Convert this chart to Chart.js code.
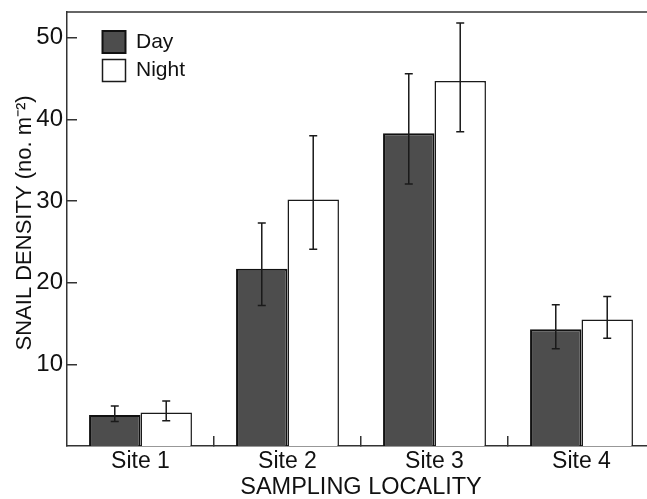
<!DOCTYPE html>
<html lang="en">
<head>
    <meta charset="UTF-8">
    <title>Snail density</title>
    <style>
        body {
            margin: 0;
            overflow: hidden;
            background: #fff;
        }
        #wrap {
            position: relative;
            width: 655px;
            height: 502px;
        }
    </style>
</head>
<body>
    <div id="wrap"><canvas id="myChart"></canvas></div>

    <script src="https://cdn.jsdelivr.net/npm/chart.js"></script>
    <script>
        // values
        const sites = ['Site 1', 'Site 2', 'Site 3', 'Site 4'];
        const dayMean = [3.8, 21.7, 38.3, 14.3];
        const dayLow = [3.0, 17.2, 32.1, 11.9];
        const dayHigh = [4.9, 27.3, 45.6, 17.3];
        const nightMean = [4.1, 30.2, 44.7, 15.5];
        const nightLow = [3.1, 24.1, 38.5, 13.2];
        const nightHigh = [5.5, 38.0, 51.8, 18.3];
        const yTicks = [10, 20, 30, 40, 50];

        const ink = '#111';
        const fontFamily = '"Liberation Sans", Arial, sans-serif';

        // error bars drawn from the y scale
        const errorBars = {
            id: 'errorBars',
            afterDatasetsDraw(chart) {
                const ctx = chart.ctx;
                const yScale = chart.scales.y;
                chart.data.datasets.forEach((ds, i) => {
                    const meta = chart.getDatasetMeta(i);
                    meta.data.forEach((bar, j) => {
                        const top = yScale.getPixelForValue(ds.errHigh[j]);
                        const bottom = yScale.getPixelForValue(ds.errLow[j]);
                        ctx.save();
                        ctx.strokeStyle = '#1a1a1a';
                        ctx.lineWidth = 1.5;
                        ctx.beginPath();
                        ctx.moveTo(bar.x, top);
                        ctx.lineTo(bar.x, bottom);
                        ctx.moveTo(bar.x - 4, top);
                        ctx.lineTo(bar.x + 4, top);
                        ctx.moveTo(bar.x - 4, bottom);
                        ctx.lineTo(bar.x + 4, bottom);
                        ctx.stroke();
                        ctx.restore();
                    });
                });
            }
        };

        // top frame line + legend nudged into the upper left corner
        const frame = {
            id: 'frame',
            afterLayout(chart) {
                const area = chart.chartArea;
                if (chart.legend) {
                    chart.legend.left = area.left + 29;
                    chart.legend.top = area.top + 12.5;
                }
            },
            afterDraw(chart) {
                const {ctx, chartArea} = chart;
                ctx.save();
                ctx.strokeStyle = '#333';
                ctx.lineWidth = 1.5;
                ctx.beginPath();
                ctx.moveTo(chartArea.left, chartArea.top);
                ctx.lineTo(chartArea.right, chartArea.top);
                ctx.stroke();
                ctx.restore();
            }
        };

        const ctx = document.getElementById('myChart').getContext('2d');
        new Chart(ctx, {
            type: 'bar',
            data: {
                labels: sites,
                datasets: [
                    {
                        label: 'Day',
                        data: dayMean,
                        errLow: dayLow,
                        errHigh: dayHigh,
                        backgroundColor: '#4d4d4d',
                        borderColor: ink,
                        borderWidth: 2
                    },
                    {
                        label: 'Night',
                        data: nightMean,
                        errLow: nightLow,
                        errHigh: nightHigh,
                        backgroundColor: '#ffffff',
                        borderColor: '#1a1a1a',
                        borderWidth: 1.5
                    }
                ]
            },
            options: {
                responsive: true,
                maintainAspectRatio: false,
                animation: false,
                categoryPercentage: 0.7,
                barPercentage: 1.0,
                layout: {
                    padding: {top: 12, right: 0, bottom: 0, left: 0}
                },
                plugins: {
                    tooltip: {enabled: false},
                    legend: {
                        position: 'chartArea',
                        align: 'start',
                        labels: {
                            boxWidth: 23,
                            boxHeight: 22,
                            padding: 6.5,
                            color: ink,
                            font: {family: fontFamily, size: 21}
                        }
                    }
                },
                scales: {
                    x: {
                        offset: true,
                        grid: {
                            offset: true,
                            drawOnChartArea: false,
                            tickLength: -10,
                            lineWidth: 1.5,
                            tickColor: c => (c.index === 0 ? 'rgba(0,0,0,0)' : '#333')
                        },
                        border: {color: '#333', width: 1.5},
                        ticks: {
                            padding: 12,
                            color: ink,
                            font: {family: fontFamily, size: 23}
                        },
                        title: {
                            display: true,
                            text: 'SAMPLING LOCALITY',
                            color: ink,
                            padding: {top: 0, bottom: 0},
                            font: {family: fontFamily, size: 23.5}
                        },
                        afterFit: scale => {
                            scale.height = 56;
                            scale.paddingLeft = 0;
                            scale.paddingRight = 0;
                        }
                    },
                    y: {
                        min: 0,
                        max: 53.15,
                        afterBuildTicks: scale => {
                            scale.ticks = yTicks.map(v => ({value: v}));
                        },
                        grid: {
                            drawOnChartArea: false,
                            tickLength: -10,
                            lineWidth: 1.5,
                            tickColor: '#333'
                        },
                        border: {color: '#333', width: 1.5},
                        ticks: {
                            padding: 14,
                            color: ink,
                            font: {family: fontFamily, size: 24}
                        },
                        title: {
                            display: true,
                            text: '  SNAIL DENSITY (no. m\u207B\u00B2)',
                            color: ink,
                            padding: {top: 12, bottom: 0},
                            font: {family: fontFamily, size: 22}
                        },
                        afterFit: scale => {
                            scale.width = 67;
                            scale.paddingTop = 0;
                            scale.paddingBottom = 0;
                        }
                    }
                }
            },
            plugins: [errorBars, frame]
        });
    </script>
</body>
</html>
